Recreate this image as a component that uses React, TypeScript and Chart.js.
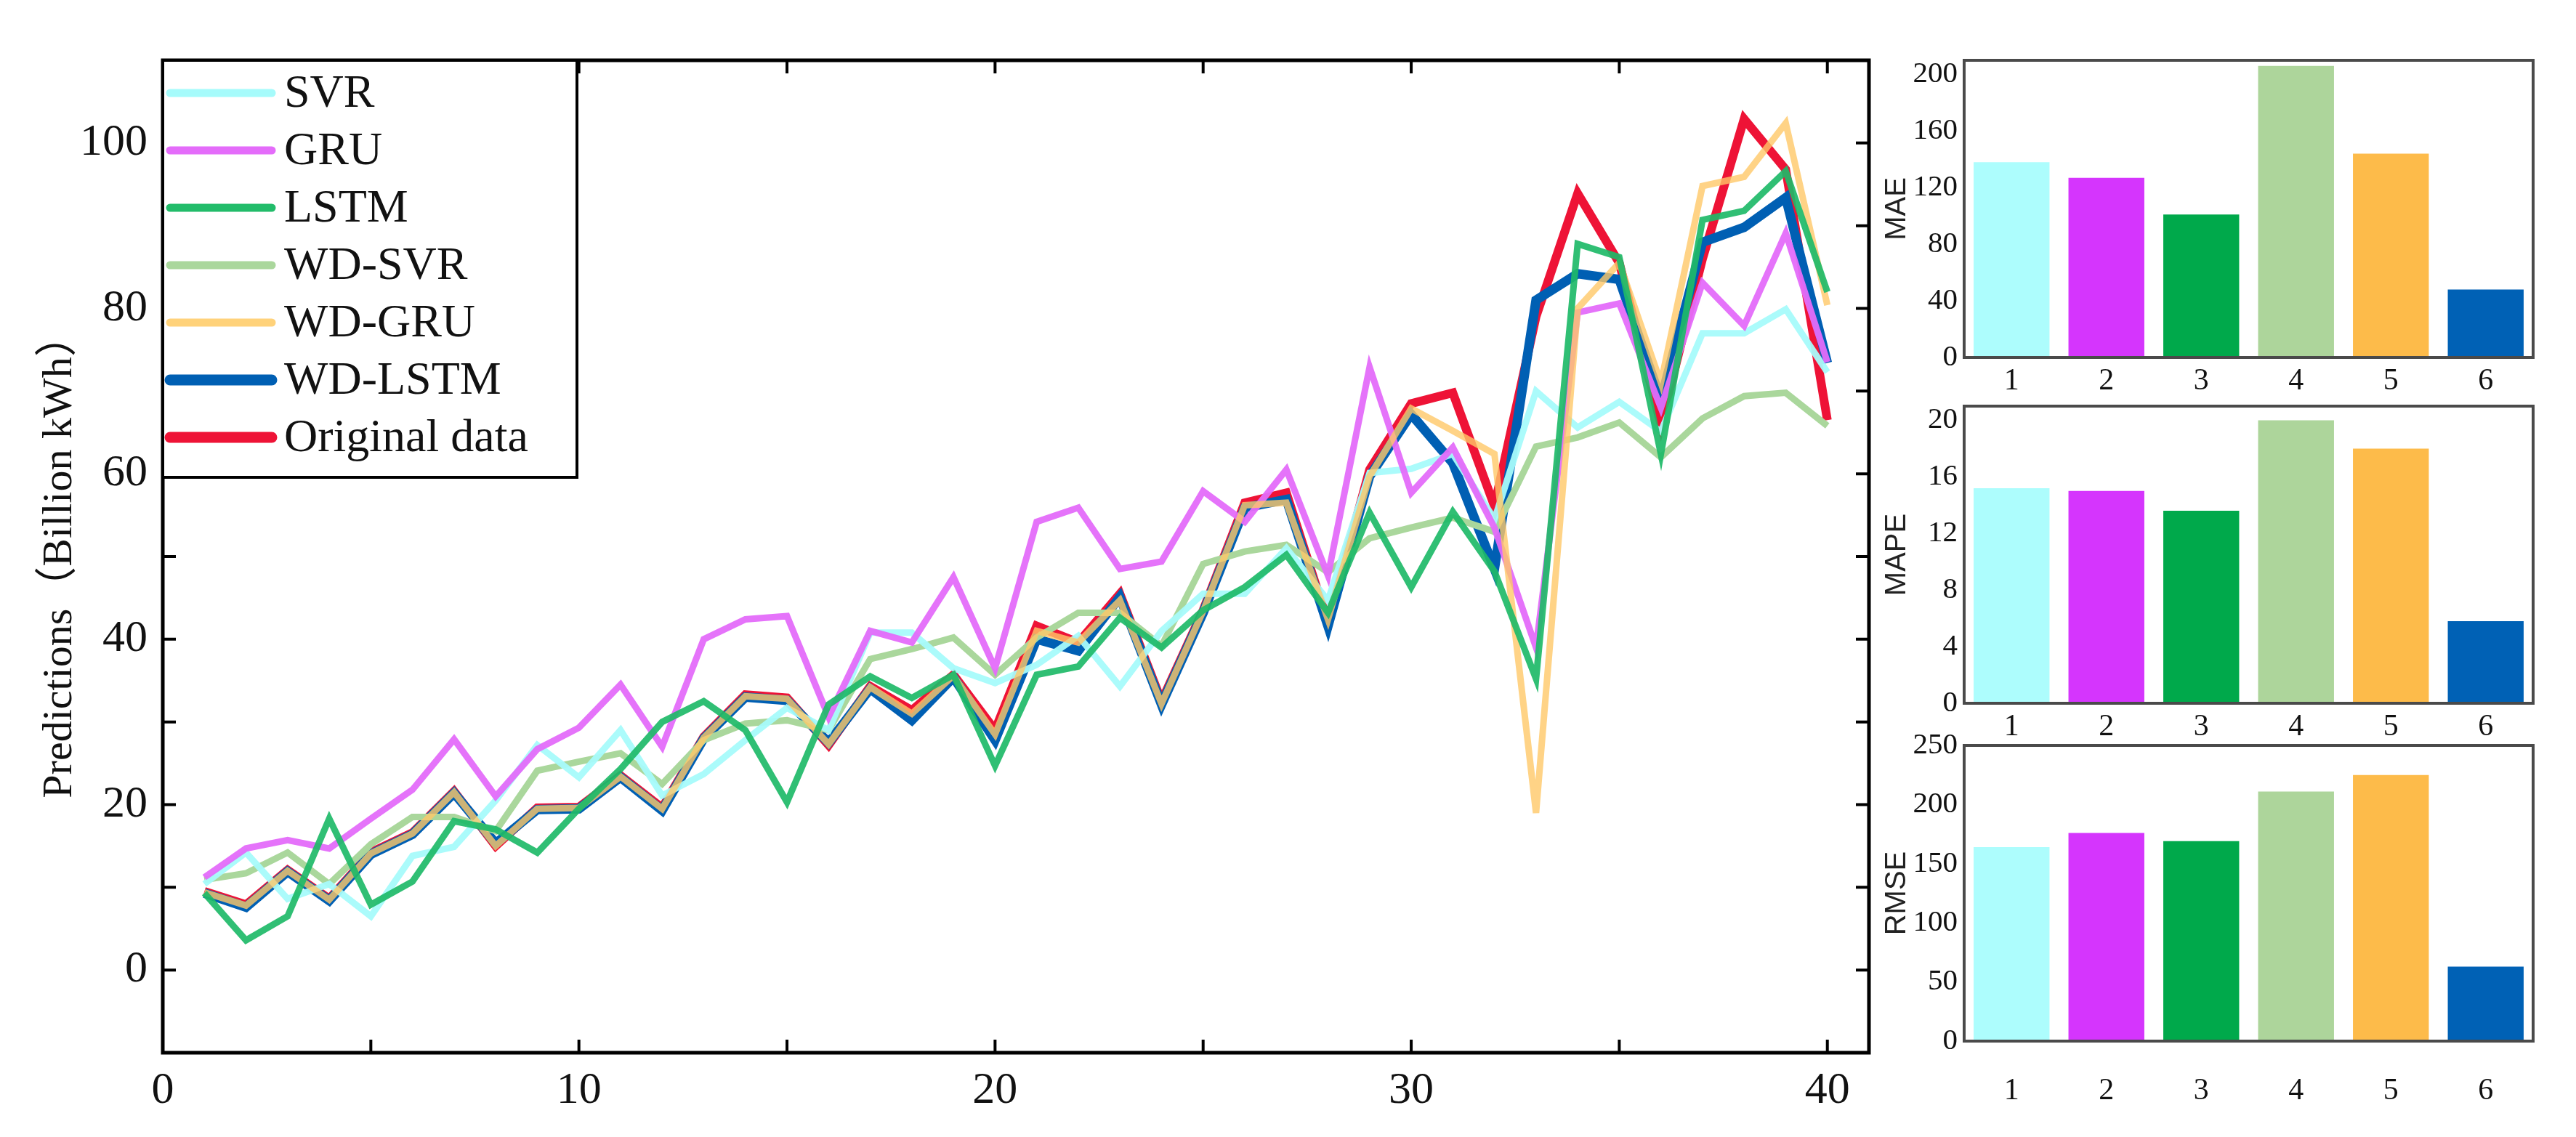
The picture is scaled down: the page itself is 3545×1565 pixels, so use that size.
import React, { useEffect, useRef } from "react";
import { Chart, registerables } from "chart.js";
Chart.register(...registerables);

// ---------- data ----------
const periods = [1, 2, 3, 4, 5, 6, 7, 8, 9, 10, 11, 12, 13, 14, 15, 16, 17, 18, 19, 20, 21, 22, 23, 24, 25, 26, 27, 28, 29, 30, 31, 32, 33, 34, 35, 36, 37, 38, 39, 40];

const svr = [10.4, 14.2, 8.6, 10.4, 6.5, 13.8, 14.9, 20.5, 27.2, 23.3, 29.0, 21.1, 23.7, 27.8, 31.7, 29.0, 40.8, 40.8, 36.5, 34.7, 36.9, 40.4, 34.3, 41.0, 45.5, 45.5, 51.0, 44.7, 60.1, 60.6, 62.4, 54.5, 70.0, 65.6, 68.7, 65.1, 77.0, 77.0, 79.9, 72.3];
const gru = [11.2, 14.7, 15.7, 14.7, 18.3, 21.8, 27.9, 21.0, 26.7, 29.3, 34.5, 27.0, 40.0, 42.4, 42.8, 30.6, 41.0, 39.6, 47.5, 36.5, 54.2, 55.9, 48.5, 49.4, 57.9, 54.2, 60.5, 47.7, 72.9, 57.7, 63.2, 53.5, 39.0, 79.5, 80.6, 68.0, 83.1, 77.9, 89.1, 73.5];
const lstm = [9.3, 3.6, 6.5, 18.3, 7.9, 10.7, 18.0, 17.0, 14.2, 19.5, 24.3, 30.0, 32.5, 29.0, 20.3, 32.1, 35.5, 32.9, 35.7, 24.7, 35.7, 36.7, 42.6, 39.0, 43.5, 46.3, 50.2, 43.2, 55.3, 46.3, 55.4, 48.2, 35.2, 87.8, 86.2, 62.4, 90.7, 91.8, 96.6, 82.0];
const wdSvr = [10.9, 11.7, 14.2, 10.4, 15.2, 18.5, 18.5, 16.8, 24.1, 25.2, 26.2, 22.5, 27.8, 29.8, 30.2, 29.0, 37.6, 38.8, 40.2, 35.7, 40.2, 43.2, 43.2, 39.2, 49.1, 50.6, 51.4, 48.1, 52.2, 53.5, 54.7, 53.0, 63.3, 64.4, 66.2, 62.0, 66.7, 69.4, 69.8, 65.8];
const wdGru = [9.4, 7.8, 12.0, 8.5, 14.1, 16.5, 21.5, 15.0, 19.5, 19.6, 23.4, 19.5, 28.1, 33.1, 32.8, 27.3, 34.2, 31.0, 35.6, 28.5, 41.0, 39.6, 44.7, 32.2, 43.4, 56.2, 56.5, 42.4, 59.7, 67.9, 65.2, 62.4, 19.0, 80.0, 85.5, 71.0, 94.8, 95.9, 102.4, 80.4];
const wdLstm = [9.3, 7.6, 11.9, 8.4, 14.0, 16.4, 21.4, 15.3, 19.4, 19.5, 23.3, 19.3, 28.0, 33.0, 32.6, 27.5, 34.0, 30.2, 35.4, 27.8, 40.0, 38.6, 45.1, 32.1, 43.2, 55.9, 56.9, 41.6, 59.7, 67.2, 61.3, 48.5, 81.0, 84.2, 83.5, 68.9, 88.0, 89.8, 93.4, 73.4];
const original = [9.5, 7.9, 12.1, 8.6, 14.2, 16.6, 21.6, 15.0, 19.6, 19.7, 23.5, 19.6, 28.2, 33.3, 32.9, 27.2, 34.3, 31.4, 35.7, 29.0, 41.6, 39.6, 45.5, 32.5, 43.5, 56.5, 57.7, 42.0, 60.5, 68.5, 69.8, 56.1, 79.0, 93.9, 85.5, 66.0, 86.0, 102.9, 96.8, 66.5];

const seriesNames = ["SVR", "GRU", "LSTM", "WD-SVR", "WD-GRU", "WD-LSTM", "Original data"];
const seriesColors = ["rgba(166,251,251,0.95)", "rgba(228,108,250,0.95)", "rgba(30,186,104,0.92)", "#AAD79C", "rgba(255,200,104,0.8)", "#005FB3", "#EE1336"];
const legendColors = ["#A6FBFB", "#E46CFA", "#22BC6A", "#AAD79C", "#FFD27A", "#005FB3", "#EE1336"];

const xTickValues = [0, 5, 10, 15, 20, 25, 30, 35, 40];
const yTickValues = [0, 10, 20, 30, 40, 50, 60, 70, 80, 90, 100];

const barLabels = ["1", "2", "3", "4", "5", "6"];
const maeValues = [138, 127, 101, 206, 144, 48];
const mapeValues = [15.2, 15.0, 13.6, 20.0, 18.0, 5.8];
const rmseValues = [164, 176, 169, 211, 225, 63];
const maeTicks = [0, 40, 80, 120, 160, 200];
const mapeTicks = [0, 4, 8, 12, 16, 20];
const rmseTicks = [0, 50, 100, 150, 200, 250];
const barColors = ["#ADFDFD", "#D535FD", "#00A94B", "#ADD59B", "#FDBB4A", "#0061B5"];

const SERIF = "'Liberation Serif', 'Times New Roman', serif";
const SANS = "'Liberation Sans', Arial, sans-serif";

// ---------- main line chart ----------
function MainChart() {
  const ref = useRef<HTMLCanvasElement>(null);
  useEffect(() => {
    const all = [svr, gru, lstm, wdSvr, wdGru, wdLstm, original];
    const widths = [9, 9, 9, 9, 9, 13, 12];
    const orders = [4, 3, 1, 5, 2, 6, 7];
    const legendWidths = [11, 11, 11, 11, 11, 15, 15];
    const datasets = all.map((vals, i) => ({
      label: seriesNames[i],
      data: periods.map((p, j) => ({ x: p, y: vals[j] })),
      borderColor: seriesColors[i],
      backgroundColor: seriesColors[i],
      borderWidth: widths[i],
      pointRadius: 0,
      tension: 0,
      fill: false,
      order: orders[i],
    }));

    const framePlugin = {
      id: "frame",
      afterDraw(chart: any) {
        const { ctx, chartArea } = chart;
        const { left, right, top, bottom } = chartArea;
        const xs = chart.scales.x;
        const ys = chart.scales.y;
        ctx.save();
        ctx.strokeStyle = "#000";
        ctx.lineWidth = 4;
        const tl = 18;
        ctx.beginPath();
        xTickValues.forEach((v) => {
          if (v <= 0) return;
          const px = xs.getPixelForValue(v);
          ctx.moveTo(px, bottom);
          ctx.lineTo(px, bottom - tl);
          ctx.moveTo(px, top);
          ctx.lineTo(px, top + tl);
        });
        yTickValues.forEach((v) => {
          const py = ys.getPixelForValue(v);
          ctx.moveTo(left, py);
          ctx.lineTo(left + tl, py);
          ctx.moveTo(right, py);
          ctx.lineTo(right - tl, py);
        });
        ctx.stroke();
        ctx.lineWidth = 5;
        ctx.strokeRect(left, top, right - left, bottom - top);

        // legend box
        const bx = left, by = top, bw = 570, bh = 574;
        ctx.fillStyle = "#fff";
        ctx.fillRect(bx, by, bw, bh);
        ctx.lineWidth = 4;
        ctx.strokeStyle = "#000";
        ctx.strokeRect(bx, by, bw, bh);
        ctx.font = `64px ${SERIF}`;
        ctx.textBaseline = "middle";
        ctx.textAlign = "left";
        chart.data.datasets.forEach((ds: any, i: number) => {
          const cy = by + 45 + i * 79;
          ctx.strokeStyle = legendColors[i];
          ctx.lineWidth = legendWidths[i];
          ctx.lineCap = "round";
          ctx.beginPath();
          ctx.moveTo(bx + 10, cy);
          ctx.lineTo(bx + 150, cy);
          ctx.stroke();
          ctx.fillStyle = "#111";
          ctx.fillText(ds.label, bx + 167, cy + 2);
        });
        ctx.restore();
      },
    };

    const chart = new Chart(ref.current as HTMLCanvasElement, {
      type: "line",
      data: { datasets: datasets as any },
      options: {
        animation: false,
        responsive: false,
        devicePixelRatio: 1,
        layout: { padding: { top: 83, right: 68, left: 0, bottom: 0 } },
        plugins: { legend: { display: false }, tooltip: { enabled: false } },
        scales: {
          x: {
            type: "linear",
            min: 0,
            max: 41,
            afterBuildTicks: (s: any) => {
              s.ticks = xTickValues.map((v) => ({ value: v }));
            },
            afterFit: (s: any) => {
              s.height = 116;
            },
            grid: { display: false, drawTicks: false },
            border: { display: false },
            ticks: {
              autoSkip: false,
              maxRotation: 0,
              padding: 16,
              color: "#111",
              font: { family: SERIF, size: 62 },
              callback: (v: any) => (Number(v) % 10 === 0 ? String(v) : ""),
            },
          },
          y: {
            type: "linear",
            min: -10,
            max: 110,
            afterBuildTicks: (s: any) => {
              s.ticks = yTickValues.map((v) => ({ value: v }));
            },
            afterFit: (s: any) => {
              s.width = 224;
            },
            grid: { display: false, drawTicks: false },
            border: { display: false },
            ticks: {
              autoSkip: false,
              padding: 21,
              color: "#111",
              font: { family: SERIF, size: 62 },
              callback: (v: any) => (Number(v) % 20 === 0 ? String(v) : ""),
            },
            title: {
              display: true,
              text: "Predictions（Billion kWh）",
              color: "#111",
              font: { family: "'Liberation Serif', 'Noto Sans CJK SC', serif", size: 58 },
              padding: { top: 48, bottom: 0 },
            },
          },
        },
      } as any,
      plugins: [framePlugin],
    });
    return () => chart.destroy();
  }, []);
  return (
    <canvas
      ref={ref}
      width={2640}
      height={1565}
      style={{ position: "absolute", left: 0, top: 0, width: 2640, height: 1565 }}
    />
  );
}

// ---------- bar panels ----------
type BarProps = {
  top: number;
  height: number;
  padTop: number;
  axisH: number;
  labelPad: number;
  values: number[];
  tickValues: number[];
  max: number;
  title: string;
};

function BarPanel(props: BarProps) {
  const ref = useRef<HTMLCanvasElement>(null);
  useEffect(() => {
    const { padTop, axisH, labelPad, values, tickValues, max, title } = props;
    const boxPlugin = {
      id: "box",
      afterDraw(chart: any) {
        const { ctx, chartArea } = chart;
        ctx.save();
        ctx.strokeStyle = "#4a4a4a";
        ctx.lineWidth = 4;
        ctx.strokeRect(chartArea.left, chartArea.top, chartArea.right - chartArea.left, chartArea.bottom - chartArea.top);
        ctx.restore();
      },
    };
    const chart = new Chart(ref.current as HTMLCanvasElement, {
      type: "bar",
      data: {
        labels: barLabels,
        datasets: [
          {
            data: values,
            backgroundColor: barColors,
            borderWidth: 0,
            barPercentage: 0.8,
            categoryPercentage: 1,
          },
        ],
      },
      options: {
        animation: false,
        responsive: false,
        devicePixelRatio: 1,
        layout: { padding: { top: padTop, right: 59, left: 0, bottom: 0 } },
        plugins: { legend: { display: false }, tooltip: { enabled: false } },
        scales: {
          x: {
            grid: { display: false, drawTicks: false },
            border: { display: false },
            afterFit: (s: any) => {
              s.height = axisH;
            },
            ticks: { padding: labelPad, color: "#111", font: { family: SERIF, size: 42 } },
          },
          y: {
            min: 0,
            max: max,
            afterBuildTicks: (s: any) => {
              s.ticks = tickValues.map((v) => ({ value: v }));
            },
            afterFit: (s: any) => {
              s.width = 143;
            },
            grid: { display: false, drawTicks: false },
            border: { display: false },
            ticks: { padding: 9, color: "#111", font: { family: SERIF, size: 41 } },
            title: {
              display: true,
              text: title,
              color: "#222",
              font: { family: SANS, size: 40 },
              padding: { top: 27, bottom: 0 },
            },
          },
        },
      } as any,
      plugins: [boxPlugin],
    });
    return () => chart.destroy();
  }, []);
  return (
    <canvas
      ref={ref}
      width={985}
      height={props.height}
      style={{ position: "absolute", left: 2560, top: props.top, width: 985, height: props.height }}
    />
  );
}

export default function App() {
  return (
    <div
      style={{
        position: "absolute",
        left: 0,
        top: 0,
        width: 3545,
        height: 1565,
        background: "#fff",
        overflow: "hidden",
      }}
    >
      <MainChart />
      <BarPanel top={40} height={530} padTop={43} axisH={78} labelPad={8} values={maeValues} tickValues={maeTicks} max={210} title="MAE" />
      <BarPanel top={520} height={520} padTop={39} axisH={72} labelPad={8} values={mapeValues} tickValues={mapeTicks} max={21} title="MAPE" />
      <BarPanel top={990} height={575} padTop={36} axisH={132} labelPad={44} values={rmseValues} tickValues={rmseTicks} max={250} title="RMSE" />
    </div>
  );
}
